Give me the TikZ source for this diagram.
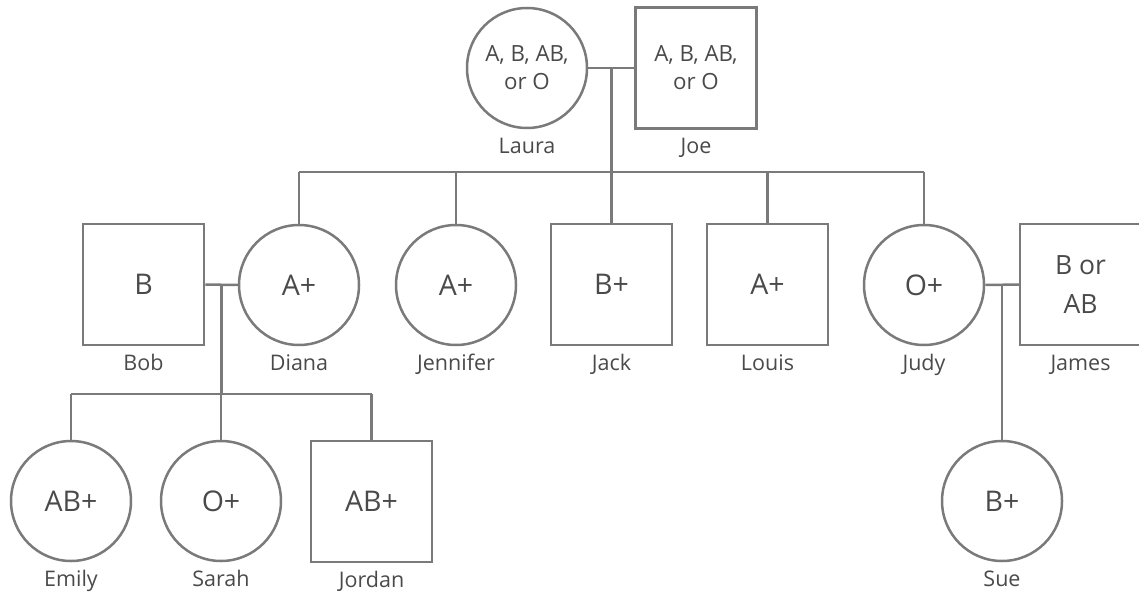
\documentclass[tikz,border=0pt]{standalone}
\usepackage{fontspec}
\setmainfont{Open Sans}
\definecolor{linegray}{rgb}{0.478,0.478,0.478}
\definecolor{textgray}{rgb}{0.29,0.29,0.29}
\tikzset{
  person/.style={draw=linegray, line width=2.5pt, inner sep=0pt, text=textgray,
    font=\fontsize{28.5}{34}\selectfont},
  female/.style={person, circle, minimum size=120pt},
  male/.style={person, rectangle, minimum size=121pt},
  twoline/.style={align=center, font=\fontsize{22.3}{28}\selectfont},
  who/.style={label={[anchor=base, label distance=24pt, text=textgray,
    font=\fontsize{21.5}{25}\selectfont]below:#1}},
  link/.style={draw=linegray, line width=2.5pt}
}

\begin{document}
\begin{tikzpicture}[x=1pt,y=-1pt]
\useasboundingbox (0,0) rectangle (1139,596);

%% grandparents
\node [female,twoline,who=Laura] (laura) at (527,68)  {A, B, AB,\\or O};
\node [male,twoline,who=Joe]     (joe)   at (696,68)  {A, B, AB,\\or O};

%% children and spouses
\node [male,who=Bob]          (bob)      at (143.5,284.5) {B};
\node [female,who=Diana]      (diana)    at (299,285)     {A+};
\node [female,who=Jennifer]   (jennifer) at (456,285)     {A+};
\node [male,who=Jack]         (jack)     at (611.5,284.5) {B+};
\node [male,who=Louis]        (louis)    at (767.5,284.5) {A+};
\node [female,who=Judy]       (judy)     at (924,285)     {O+};
\node [male,who=James,align=center,font=\fontsize{26.5}{39}\selectfont]
                              (james)    at (1080.5,284.5) {B or\\AB};

%% grandchildren
\node [female,who=Emily]  (emily)  at (71,501)    {AB+};
\node [female,who=Sarah]  (sarah)  at (221,501)   {O+};
\node [male,who=Jordan]   (jordan) at (371.5,501.5) {AB+};
\node [female,who=Sue]    (sue)    at (1002,501)  {B+};

%% couples
\draw [link] (laura) -- node [coordinate] (m0) {} (joe);
\draw [link] (bob)   -- node [coordinate] (m1) {} (diana);
\draw [link] (judy)  -- node [coordinate] (m2) {} (james);

%% lines of descent
% Laura and Joe
\coordinate (bar0) at (m0 |- 0,172);
\draw [link] (m0) -- (bar0);
\draw [link] (bar0 -| diana.north) -- (bar0 -| judy.north);
\foreach \c in {diana,jennifer,jack,louis,judy}
  \draw [link] (bar0 -| \c.north) -- (\c.north);
% Bob and Diana
\coordinate (bar1) at (m1 |- 0,394);
\draw [link] (m1) -- (bar1);
\draw [link] (bar1 -| emily.north) -- (bar1 -| jordan.north);
\foreach \c in {emily,sarah,jordan}
  \draw [link] (bar1 -| \c.north) -- (\c.north);
% Judy and James
\draw [link] (m2) -- (m2 |- sue.north);

\end{tikzpicture}
\end{document}
